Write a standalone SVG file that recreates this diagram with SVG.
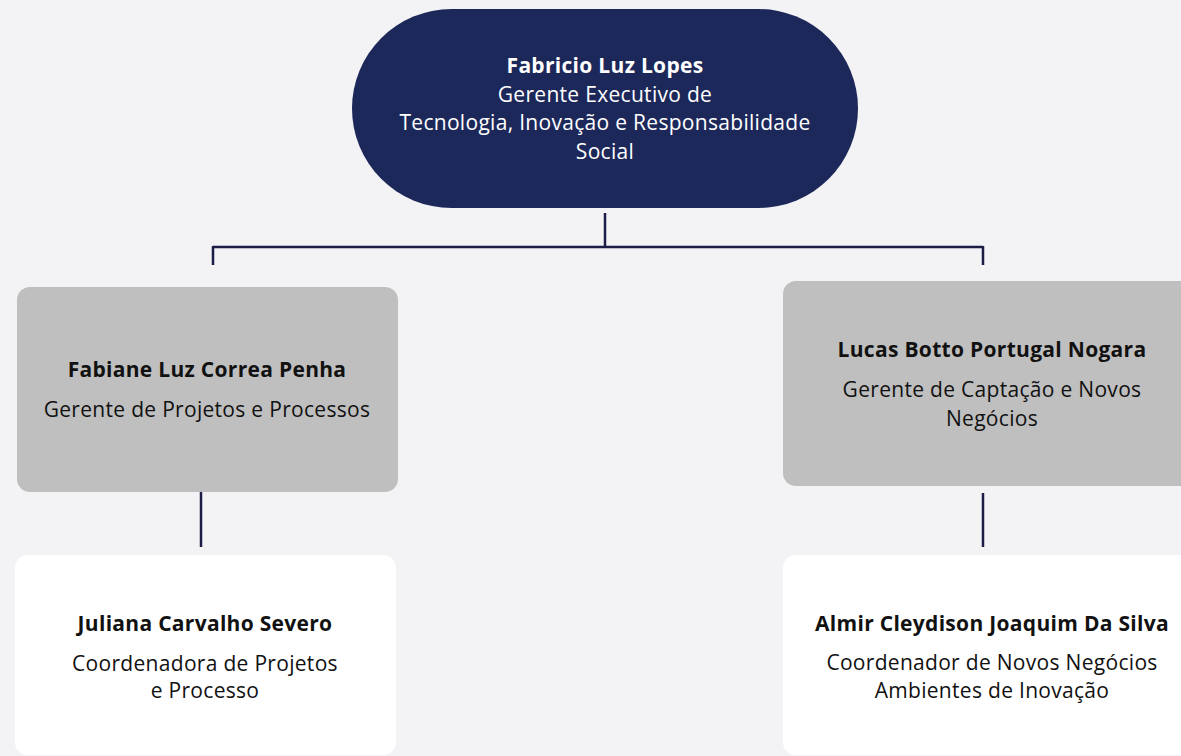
<svg xmlns="http://www.w3.org/2000/svg" width="1181" height="756" viewBox="0 0 1181 756">
<style>
text{font-family:"Open Sans","Noto Sans","Liberation Sans",sans-serif;text-anchor:middle;font-size:21px;letter-spacing:0.3px}
.b{font-weight:bold}
.w{fill:#ffffff}
.k{fill:#111111}
.gray{fill:#bfbfbf}
.white{fill:#ffffff}
.conn{stroke:#1b1d47;stroke-width:2.5;fill:none}
</style>
<rect x="0" y="0" width="1181" height="756" fill="#f3f3f5"/>
<g id="connectors">
<path class="conn" d="M605 213 V247 M213 247 H983 M213 246 V265 M983 246 V265"/>
<path class="conn" d="M201 492 V547"/>
<path class="conn" d="M983 493 V547"/>
</g>
<g id="node-fabricio">
<rect x="352" y="9" width="506" height="199" rx="99.5" fill="#1d285a"/>
<text class="w b" x="605" y="73">Fabricio Luz Lopes</text>
<text class="w" x="605" y="102">Gerente Executivo de</text>
<text class="w" x="605" y="130">Tecnologia, Inovação e Responsabilidade</text>
<text class="w" x="605" y="159">Social</text>
</g>
<g id="node-fabiane">
<rect class="gray" x="17" y="287" width="381" height="205" rx="13"/>
<text class="k b" x="207" y="377">Fabiane Luz Correa Penha</text>
<text class="k" x="207" y="417">Gerente de Projetos e Processos</text>
</g>
<g id="node-lucas">
<rect class="gray" x="783" y="281" width="420" height="205" rx="13"/>
<text class="k b" x="992" y="357">Lucas Botto Portugal Nogara</text>
<text class="k" x="992" y="397">Gerente de Captação e Novos</text>
<text class="k" x="992" y="426">Negócios</text>
</g>
<g id="node-juliana">
<rect class="white" x="15" y="555" width="381" height="200" rx="13"/>
<text class="k b" x="205" y="631">Juliana Carvalho Severo</text>
<text class="k" x="205" y="671">Coordenadora de Projetos</text>
<text class="k" x="205" y="698">e Processo</text>
</g>
<g id="node-almir">
<rect class="white" x="783" y="555" width="420" height="200" rx="13"/>
<text class="k b" x="992" y="631">Almir Cleydison Joaquim Da Silva</text>
<text class="k" x="992" y="670">Coordenador de Novos Negócios</text>
<text class="k" x="992" y="698">Ambientes de Inovação</text>
</g>
</svg>
